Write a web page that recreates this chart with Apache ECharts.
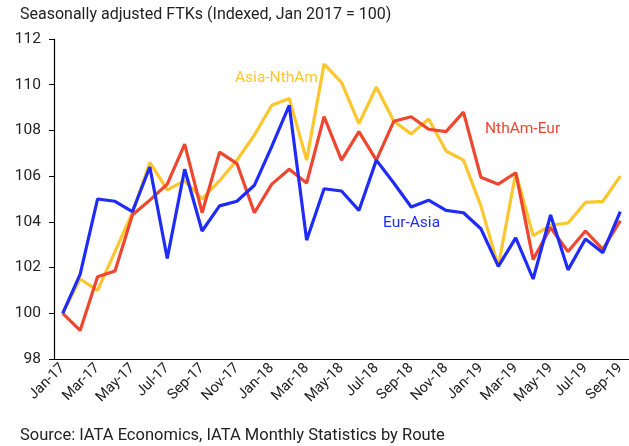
<!DOCTYPE html>
<html>
<head>
<meta charset="utf-8">
<script src="https://cdn.jsdelivr.net/npm/echarts@6/dist/echarts.min.js"></script>
<style>
  html, body { margin: 0; padding: 0; background: #fff; }
  #chart { width: 629px; height: 446px; }
</style>
</head>
<body>
<div id="chart"></div>
<script>
// Meses (Jan-17 .. Sep-19)
const months = ['Jan-17','Feb-17','Mar-17','Apr-17','May-17','Jun-17','Jul-17','Aug-17','Sep-17','Oct-17','Nov-17','Dec-17',
  'Jan-18','Feb-18','Mar-18','Apr-18','May-18','Jun-18','Jul-18','Aug-18','Sep-18','Oct-18','Nov-18','Dec-18',
  'Jan-19','Feb-19','Mar-19','Apr-19','May-19','Jun-19','Jul-19','Aug-19','Sep-19']

// Series
const asiaNthAm = [100, 101.5, 101.0, 102.7, 104.4, 106.6, 105.4, 105.8, 105.0, 105.8, 106.7,
  107.8, 109.1, 109.4, 106.7, 110.9, 110.1, 108.3, 109.9, 108.4, 107.85,
  108.5, 107.1, 106.7, 104.7, 102.05, 106.15, 103.4, 103.85, 103.95, 104.85, 104.9, 106.0]
const nthAmEur = [100, 99.25, 101.6, 101.85, 104.3, 104.95, 105.65, 107.4, 104.4, 107.05, 106.55,
  104.4, 105.65, 106.3, 105.7, 108.6, 106.7, 107.95, 106.7, 108.4, 108.6,
  108.05, 107.95, 108.8, 105.95, 105.65, 106.15, 102.35, 103.75, 102.7, 103.6, 102.8, 104.05]
const eurAsia = [100, 101.7, 105.0, 104.9, 104.45, 106.4, 102.4, 106.3, 103.6, 104.7, 104.9,
  105.6, 107.3, 109.1, 103.2, 105.45, 105.35, 104.5, 106.7, 105.7, 104.65,
  104.95, 104.5, 104.4, 103.7, 102.05, 103.3, 101.5, 104.3, 101.9, 103.25, 102.65, 104.45]

const seriesNames = ['Asia-NthAm', 'NthAm-Eur', 'Eur-Asia']
const colors = ['#FCC62E', '#EF4630', '#1F2CF7']
const yTicks = { min: 98, max: 112, interval: 2 }

const font = 'Roboto, "Liberation Sans", sans-serif'
const chart = echarts.init(document.getElementById('chart'))

const mkSeries = (name, data, color) => ({
  name,
  type: 'line',
  data,
  symbol: 'none',
  lineStyle: { width: 3.2, color },
  itemStyle: { color },
  z: 2
})

chart.setOption({
  animation: false,
  grid: { left: 54, top: 39, bottom: 87, right: -8, containLabel: false },
  xAxis: {
    type: 'category',
    data: months,
    boundaryGap: true,
    axisLine: { lineStyle: { color: '#000', width: 1.2 } },
    axisTick: { interval: 1, length: 5, lineStyle: { color: '#000' } },
    axisLabel: { interval: 1, rotate: 45, color: '#222', fontSize: 14.5, fontFamily: font, margin: 7 },
    splitLine: { show: false }
  },
  yAxis: {
    type: 'value',
    min: yTicks.min,
    max: yTicks.max,
    interval: yTicks.interval,
    axisLine: { show: true, lineStyle: { color: '#000', width: 1.2 } },
    axisTick: { show: true, inside: false, length: 5, lineStyle: { color: '#000' } },
    axisLabel: { color: '#222', fontSize: 15.5, fontFamily: font, margin: 13 },
    splitLine: { show: false }
  },
  series: [
    mkSeries(seriesNames[0], asiaNthAm, colors[0]),
    mkSeries(seriesNames[1], nthAmEur, colors[1]),
    mkSeries(seriesNames[2], eurAsia, colors[2])
  ],
  graphic: [
    { type: 'text', left: 20, top: 7, style: { text: 'Seasonally adjusted FTKs (Indexed, Jan 2017 = 100)', fill: '#222', font: '16px ' + font } },
    { type: 'text', left: 20, top: 427, style: { text: 'Source: IATA Economics, IATA Monthly Statistics by Route', fill: '#222', font: '16.5px ' + font } },
    { type: 'text', left: 235, top: 70, style: { text: seriesNames[0], fill: colors[0], font: '15.5px ' + font } },
    { type: 'text', left: 485, top: 121, style: { text: seriesNames[1], fill: colors[1], font: '15.5px ' + font } },
    { type: 'text', left: 383, top: 215, style: { text: seriesNames[2], fill: colors[2], font: '15.5px ' + font } }
  ]
})
</script>
</body>
</html>
